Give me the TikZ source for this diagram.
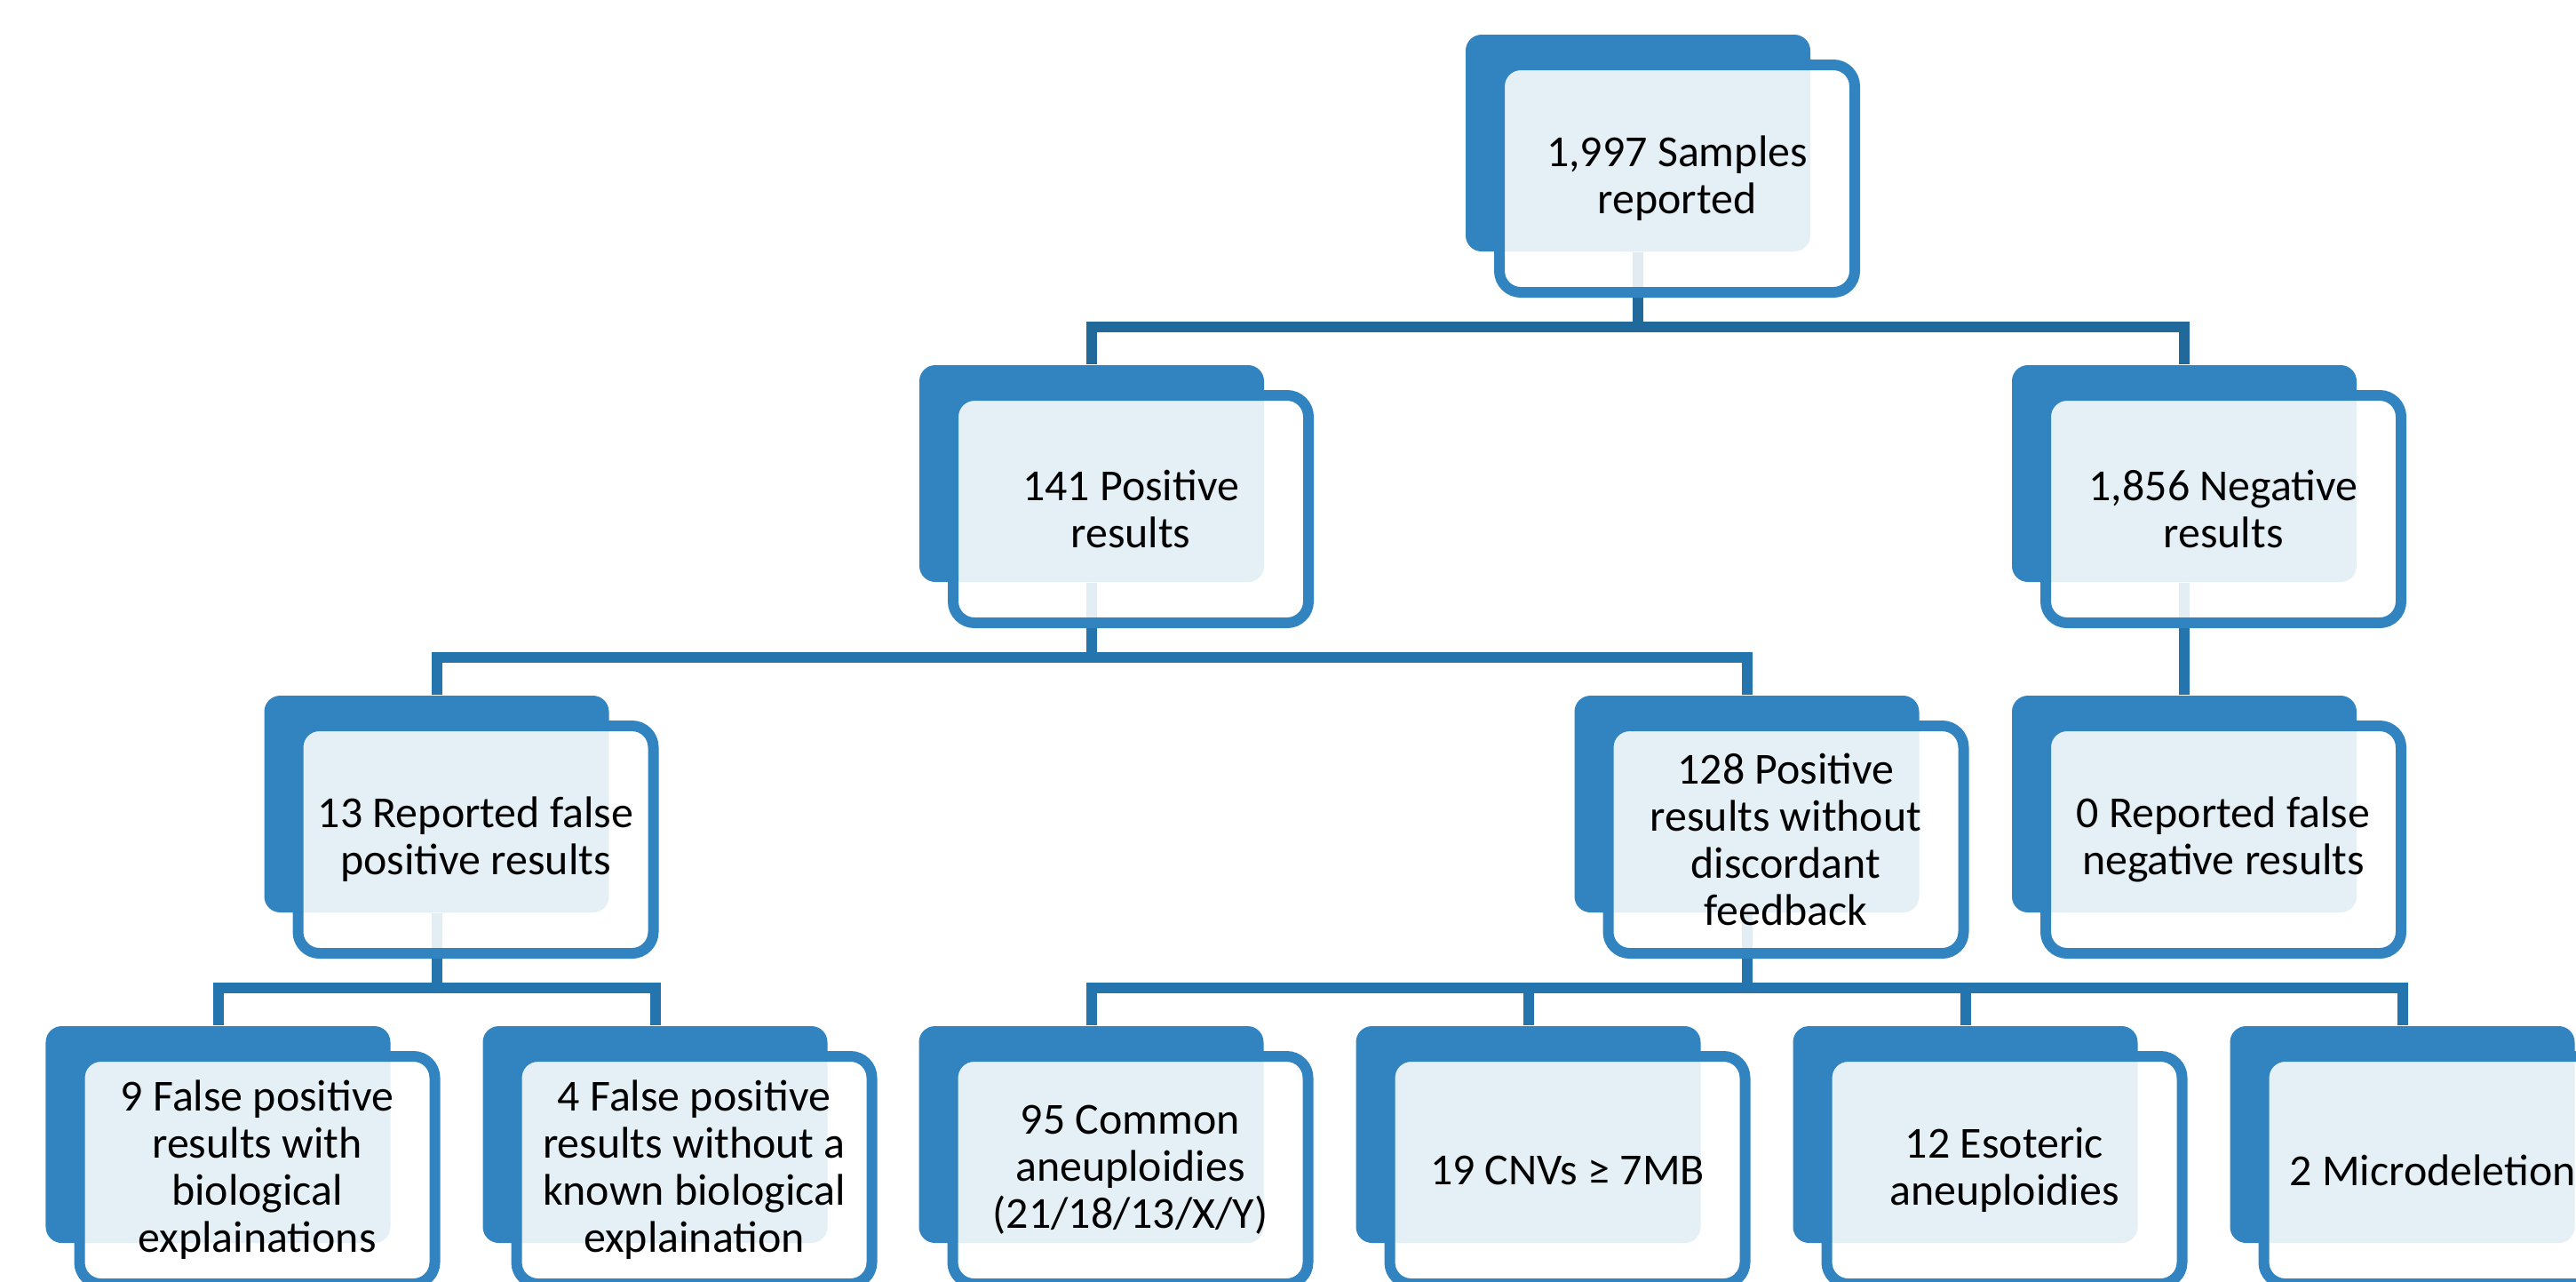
\documentclass[tikz,border=0pt]{standalone}
\usepackage{fontspec}
\setmainfont{Carlito}
\usepackage{xcolor}
\usetikzlibrary{positioning}

\definecolor{smblue}{HTML}{3184C0}
\definecolor{linkdark}{HTML}{22699B}
\definecolor{linkblue}{HTML}{2474AE}

\tikzset{
  back/.style={rectangle, rounded corners=0.18cm, fill=smblue, inner sep=0pt,
    minimum width=3.88cm, minimum height=2.44cm},
  front/.style={rectangle, rounded corners=0.24cm, draw=smblue, line width=0.12cm,
    fill=white, fill opacity=0.87, text opacity=1, inner sep=0pt,
    minimum width=4cm, minimum height=2.56cm, align=center,
    font=\fontsize{14.2}{15.1}\selectfont},
  link/.style={draw=linkblue, line width=0.12cm},
}

\begin{document}
\begin{tikzpicture}[on grid]
    \useasboundingbox (0,0) rectangle (29,-14.42);
    \clip (0,0) rectangle (29,-14.42);

    % Fonds
    \node[back] (top) at (18.44,-1.61) {};
    \node[back] (pos) [below left=3.72cm and 6.15cm of top] {};
    \node[back] (neg) [below right=3.72cm and 6.15cm of top] {};
    \node[back] (fp) [below left=3.72cm and 7.375cm of pos] {};
    \node[back] (tp) [below right=3.72cm and 7.375cm of pos] {};
    \node[back] (fn) [below=3.72cm of neg] {};
    \node[back] (fpbio) [below left=3.72cm and 2.46cm of fp] {};
    \node[back] (fpunk) [below right=3.72cm and 2.46cm of fp] {};
    \node[back] (common) [below left=3.72cm and 7.38cm of tp] {};
    \node[back] (cnv) [below left=3.72cm and 2.46cm of tp] {};
    \node[back] (eso) [below right=3.72cm and 2.46cm of tp] {};
    \node[back] (micro) [below right=3.72cm and 7.38cm of tp] {};

    % Liens
    \draw[link, draw=linkdark] (pos.north) -- ++(0,0.42) -| (top.south);
    \draw[link, draw=linkdark] (neg.north) -- ++(0,0.42) -| (top.south);
    \draw[link] (fp.north) -- ++(0,0.42) -| (pos.south);
    \draw[link] (tp.north) -- ++(0,0.42) -| (pos.south);
    \draw[link] (fn.north) -- (neg.south);
    \draw[link] (fpbio.north) -- ++(0,0.42) -| (fp.south);
    \draw[link] (fpunk.north) -- ++(0,0.42) -| (fp.south);
    \draw[link] (common.north) -- ++(0,0.42) -| (tp.south);
    \draw[link] (cnv.north) -- ++(0,0.42) -| (tp.south);
    \draw[link] (eso.north) -- ++(0,0.42) -| (tp.south);
    \draw[link] (micro.north) -- ++(0,0.42) -| (tp.south);

    % Textes
    \node[front] (top-t) [below right=0.40cm and 0.44cm of top] {1,997 Samples\\reported};
    \node[front] (pos-t) [below right=0.40cm and 0.44cm of pos] {141 Positive\\results};
    \node[front] (neg-t) [below right=0.40cm and 0.44cm of neg] {1,856 Negative\\results};
    \node[front] (fp-t) [below right=0.40cm and 0.44cm of fp] {13 Reported false\\positive results};
    \node[front] (tp-t) [below right=0.40cm and 0.44cm of tp] {128 Positive\\results without\\discordant\\feedback};
    \node[front] (fn-t) [below right=0.40cm and 0.44cm of fn] {0 Reported false\\negative results};
    \node[front] (fpbio-t) [below right=0.40cm and 0.44cm of fpbio] {9 False positive\\results with\\biological\\explainations};
    \node[front] (fpunk-t) [below right=0.40cm and 0.44cm of fpunk] {4 False positive\\results without a\\known biological\\explaination};
    \node[front] (common-t) [below right=0.40cm and 0.44cm of common] {95 Common\\aneuploidies\\(21/18/13/X/Y)};
    \node[front] (cnv-t) [below right=0.40cm and 0.44cm of cnv] {19 CNVs ≥ 7MB};
    \node[front] (eso-t) [below right=0.40cm and 0.44cm of eso] {12 Esoteric\\aneuploidies};
    \node[front] (micro-t) [below right=0.40cm and 0.44cm of micro] {2 Microdeletions};
\end{tikzpicture}
\end{document}
